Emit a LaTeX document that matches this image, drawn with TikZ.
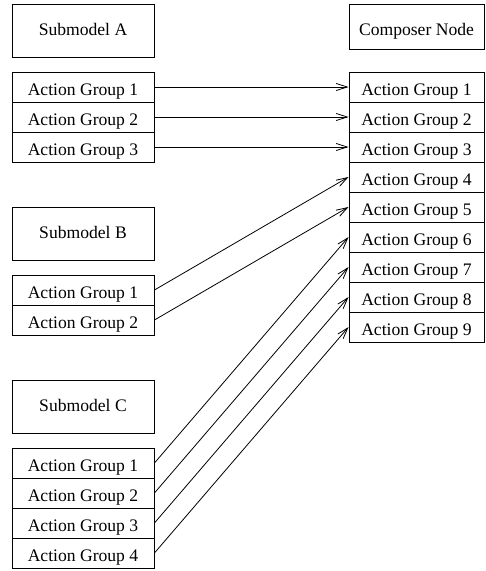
\documentclass[tikz,border=0pt]{standalone}
\usepackage{fontspec}
\setmainfont{Liberation Serif}
\usepackage{tikz}
\usetikzlibrary{arrows.meta}
\usetikzlibrary{positioning}

\begin{document}
\begin{tikzpicture}[x=1pt,y=-1pt]
              \tikzset{>={Straight Barb[length=11pt,width=7pt]}}
              \tikzstyle{box}=[draw,line width=0.9pt,inner sep=0pt,text depth=0pt,font=\fontsize{17.6}{20}\selectfont]
              \tikzstyle{head}=[box,minimum width=142pt,minimum height=53pt,text height=10pt]
              \tikzstyle{group}=[box,minimum width=142pt,minimum height=30pt,text height=16pt]
              \tikzstyle{rgroup}=[box,minimum width=135pt,minimum height=30pt,text height=16pt]
              \tikzstyle{link}=[->,line width=0.8pt]

              % FRAME
              \useasboundingbox (0,0) rectangle (486,571);

              % SUBMODELS
              \node[head] (SA) at (83,30.5) {Submodel A};
              \node[group] (A1) at (83,87) {Action Group 1};
              \node[group] (A2) at (83,117) {Action Group 2};
              \node[group] (A3) at (83,147) {Action Group 3};

              \node[head] (SB) at (83,233.5) {Submodel B};
              \node[group] (B1) at (83,290) {Action Group 1};
              \node[group] (B2) at (83,320) {Action Group 2};

              \node[head] (SC) at (83,406.5) {Submodel C};
              \node[group] (C1) at (83,463) {Action Group 1};
              \node[group] (C2) at (83,493) {Action Group 2};
              \node[group] (C3) at (83,523) {Action Group 3};
              \node[group] (C4) at (83,553) {Action Group 4};

              % COMPOSER
              \node[box,minimum width=135pt,minimum height=45pt,text height=17pt] (CN) at (416.5,26.5) {Composer Node};
              \node[rgroup] (N1) at (416.5,87) {Action Group 1};
              \node[rgroup] (N2) at (416.5,117) {Action Group 2};
              \node[rgroup] (N3) at (416.5,147) {Action Group 3};
              \node[rgroup] (N4) at (416.5,177) {Action Group 4};
              \node[rgroup] (N5) at (416.5,207) {Action Group 5};
              \node[rgroup] (N6) at (416.5,237) {Action Group 6};
              \node[rgroup] (N7) at (416.5,267) {Action Group 7};
              \node[rgroup] (N8) at (416.5,297) {Action Group 8};
              \node[rgroup] (N9) at (416.5,327) {Action Group 9};

              \draw[link] (A1.east) -- (N1.west);
              \draw[link] (A2.east) -- (N2.west);
              \draw[link] (A3.east) -- (N3.west);
              \draw[link] (B1.east) -- (N4.west);
              \draw[link] (B2.east) -- (N5.west);
              \draw[link] (C1.east) -- (N6.west);
              \draw[link] (C2.east) -- (N7.west);
              \draw[link] (C3.east) -- (N8.west);
              \draw[link] (C4.east) -- (N9.west);
            \end{tikzpicture}
\end{document}
